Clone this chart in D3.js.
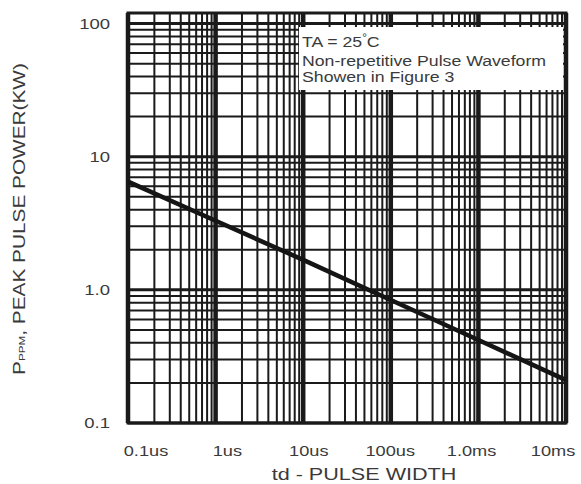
<!DOCTYPE html>
<html>
<head>
<meta charset="utf-8">
<script src="https://cdn.jsdelivr.net/npm/d3@7"></script>
<style>
  body { margin: 0; background: #fff; }
  svg { display: block; }
  text { font-family: "Liberation Sans", Arial, sans-serif; fill: #3a3a3a; }
</style>
</head>
<body>
<div id="chart"></div>
<script>
// values
const xTicks = [1e-7, 1e-6, 1e-5, 1e-4, 1e-3, 1e-2];
const xTickLabels = ["0.1us", "1us", "10us", "100us", "1.0ms", "10ms"];
const yTicks = [0.1, 1, 10, 100];
const yTickLabels = ["0.1", "1.0", "10", "100"];
const pulseWidth = [1e-7, 1e-6, 1e-5, 1e-4, 1e-3, 1e-2];
const peakPower = [6.5, 3.3, 1.68, 0.84, 0.42, 0.21];
const noteLines = ["Non-repetitive Pulse Waveform", "Showen in Figure 3"];

const width = 581, height = 484;
const plot = {left: 128, right: 566, top: 13, bottom: 423};

const svg = d3.select("#chart").append("svg")
    .attr("width", width).attr("height", height);

const x = d3.scaleLog().domain([1e-7, 1e-2]).range([plot.left, plot.right]);
const y = d3.scaleLog().domain([0.1, 120]).range([plot.bottom, plot.top]);

// minor values 1..9 in every decade
function minors(lo, hi){
    let out = [];
    for(let d = lo; d < hi * 1.0001; d *= 10){
        for(let m = 1; m <= 9; m++){
            let v = d * m;
            if(v <= hi * 1.0001) out.push(v);
        }
    }
    return out;
}
const isDecade = v => Math.abs(Math.log10(v) - Math.round(Math.log10(v))) < 1e-6;

const grid = svg.append("g").attr("class", "grid");

grid.selectAll(".vline")
    .data(minors(1e-7, 1e-2))
    .join("line")
    .attr("class", "vline")
    .attr("x1", d => x(d)).attr("x2", d => x(d))
    .attr("y1", plot.top).attr("y2", plot.bottom)
    .style("stroke", "#1a1a1a")
    .style("stroke-width", d => isDecade(d) ? 4.5 : 2);

grid.selectAll(".hline")
    .data(minors(0.1, 100))
    .join("line")
    .attr("class", "hline")
    .attr("x1", plot.left).attr("x2", plot.right)
    .attr("y1", d => y(d)).attr("y2", d => y(d))
    .style("stroke", "#1a1a1a")
    .style("stroke-width", d => isDecade(d) ? 3 : 2);

// frame
svg.append("rect")
    .attr("x", plot.left).attr("y", plot.top)
    .attr("width", plot.right - plot.left).attr("height", plot.bottom - plot.top)
    .style("fill", "none").style("stroke", "#1a1a1a").style("stroke-width", 3);

// note box covering the grid
svg.append("rect")
    .attr("x", 299).attr("y", 27).attr("width", 264).attr("height", 63)
    .style("fill", "#fff");

const note = svg.append("g").attr("transform", "translate(302,0)");
const ta = note.append("text")
    .attr("transform", "translate(0,47) scale(1.18,1)")
    .style("font-size", "15px");
ta.append("tspan").text("TA = 25");
ta.append("tspan").attr("dy", -6).style("font-size", "10px").text("°");
ta.append("tspan").attr("dy", 6).text("C");

note.selectAll(".note-line")
    .data(noteLines)
    .join("text")
    .attr("class", "note-line")
    .attr("transform", (d, i) => `translate(0,${66 + i * 16}) scale(1.18,1)`)
    .style("font-size", "15px")
    .text(d => d);

// the curve
const line = d3.line().x((d, i) => x(pulseWidth[i])).y(d => y(d));
svg.append("path")
    .attr("d", line(peakPower))
    .style("fill", "none")
    .style("stroke", "#151515")
    .style("stroke-width", 4.5);

// x tick labels, spread evenly under the plot like the original
const xLab = d3.scalePoint().domain(xTickLabels).range([146, 553]);
svg.selectAll(".xtick")
    .data(xTickLabels)
    .join("text")
    .attr("class", "xtick")
    .attr("transform", d => `translate(${xLab(d)},456) scale(1.3,1)`)
    .attr("text-anchor", "middle")
    .style("font-size", "14px")
    .text(d => d);

// y tick labels
svg.selectAll(".ytick")
    .data(yTicks)
    .join("text")
    .attr("class", "ytick")
    .attr("transform", d => `translate(110,${y(d) + 5}) scale(1.32,1)`)
    .attr("text-anchor", "end")
    .style("font-size", "14px")
    .text((d, i) => yTickLabels[i]);

// axis titles
svg.append("text")
    .attr("transform", "translate(364,480) scale(1.35,1)")
    .attr("text-anchor", "middle")
    .style("font-size", "16px")
    .text("td - PULSE WIDTH");

const yt = svg.append("text")
    .attr("transform", "translate(25,219) rotate(-90) scale(1.3,1)")
    .attr("text-anchor", "middle")
    .style("font-size", "16px");
yt.append("tspan").text("P");
yt.append("tspan").style("font-size", "9px").text("PPM");
yt.append("tspan").text(", PEAK PULSE POWER(KW)");
</script>
</body>
</html>
